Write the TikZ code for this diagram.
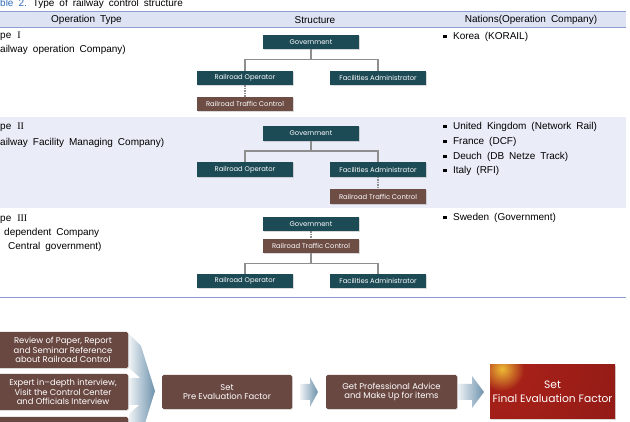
\documentclass[tikz,border=0pt]{standalone}
\usepackage{fontspec}
\setmainfont{Liberation Sans}[WordSpace=1.8]
\newfontfamily\boxfont{Poppins}
\newfontfamily\numfont{Liberation Serif}
\usepackage{tikz}
\usetikzlibrary{calc, shadows, fadings}
\usetikzlibrary{arrows.meta}
\tikzset{>={Latex[width=1.5mm,length=1.5mm]}}

\definecolor{orgteal}{HTML}{1C4A55}
\definecolor{ctrlbrown}{HTML}{6E4D45}
\definecolor{flowbrown}{HTML}{6A4842}
\definecolor{linkgray}{HTML}{8E8E8E}
\definecolor{headfill}{HTML}{DEE3F4}
\definecolor{rowfill}{HTML}{EAEDF8}
\definecolor{ruleblue}{HTML}{8C9DD2}
\definecolor{titleblue}{HTML}{2F6DB5}
\definecolor{arrowlight}{HTML}{EEF2F5}
\definecolor{arrowdark}{HTML}{6D92AC}
\definecolor{glowyellow}{HTML}{EDBA35}
\definecolor{finalred}{HTML}{AA2219}
\definecolor{finaldark}{HTML}{7A1313}

\tikzfading[name=glowfade, inner color=transparent!0, outer color=transparent!100]

\tikzset{
  boxshadow/.style={drop shadow={shadow xshift=0.8pt, shadow yshift=-0.8pt, opacity=0.3}},
  orgbox/.style={fill=orgteal, text=white, font=\boxfont\fontsize{6.8}{8}\selectfont,
    minimum width=96pt, minimum height=14.5pt, inner sep=0pt, boxshadow},
  ctrlbox/.style={orgbox, fill=ctrlbrown},
  flowbox/.style={fill=flowbrown, text=white, font=\boxfont\fontsize{8.4}{9.2}\selectfont,
    align=center, inner sep=0pt, rounded corners=1.5pt, minimum width=130pt, boxshadow},
  finalbox/.style={text=white, font=\boxfont\fontsize{10.7}{14}\selectfont, align=center,
    inner sep=0pt, minimum width=125pt, minimum height=54pt, boxshadow,
    path picture={
      \shade[inner color=finalred, outer color=finaldark]
        ($(path picture bounding box.north west)+(12pt,-3pt)$) circle (260pt);
      \fill[glowyellow, path fading=glowfade]
        ($(path picture bounding box.north west)+(12pt,-4pt)$) circle (22pt);
    }},
  link/.style={draw=linkgray, line width=1.2pt},
  ctrllink/.style={link, dash pattern=on 1.5pt off 1pt},
  headtext/.style={font=\fontsize{10}{12}\selectfont, inner sep=0pt},
  celltext/.style={anchor=west, font=\fontsize{10}{12}\selectfont, inner sep=0pt},
  bullet/.style={celltext},
}
\newcommand{\sqbullet}{\rule[1.2pt]{3.4pt}{3.4pt}\hspace{6.5pt}}

\begin{document}
\begin{tikzpicture}[x=1pt, y=-1pt]
  \useasboundingbox (0,0) rectangle (630,422);
  \clip (0,0) rectangle (630,422);

  \fill[headfill] (0,12) rectangle (626,27);
  \fill[rowfill] (0,117) rectangle (626,208);
  \draw[ruleblue, line width=1pt] (0,12) -- (626,12);
  \draw[ruleblue, line width=0.6pt] (0,27) -- (626,27);
  \draw[ruleblue, line width=0.8pt] (0,297) -- (626,297);

  \node[anchor=base west, inner sep=0pt, font=\fontsize{10}{11}\selectfont] (TITLE) at (0,7)
    {\textcolor{titleblue}{ble 2.} Type of railway control structure};
  \node[headtext] (HTYPE) at (86.5,20) {Operation Type};
  \node[headtext] (HSTRUCT) at (315,20) {Structure};
  \node[headtext] (HNATION) at (531,20) {Nations(Operation Company)};

  % type I
  \node[celltext] (TYPEA) at (0,36) {pe\hspace{6pt}{\numfont I}};
  \node[celltext] (DESCA) at (0,50) {ailway operation Company)};
  \node[orgbox] (GOVA) at (311,42) {Government};
  \node[orgbox] (ROA) at (245,78) {Railroad Operator};
  \node[orgbox] (FAA) at (378,78) {Facilities Administrator};
  \node[ctrlbox] (RTCA) at (245,104) {Railroad Traffic Control};
  \draw[link] (GOVA.south) -- ++(0,10) -| (ROA.north);
  \draw[link] (GOVA.south) -- ++(0,10) -| (FAA.north);
  \draw[ctrllink] (ROA.south) -- (RTCA.north);
  \node[bullet] (NATA) at (443,37) {\sqbullet Korea (KORAIL)};

  % type II
  \node[celltext] (TYPEB) at (0,127) {pe\hspace{6pt}{\numfont II}};
  \node[celltext] (DESCB) at (0,143) {ailway Facility Managing Company)};
  \node[orgbox] (GOVB) at (311,133.5) {Government};
  \node[orgbox] (ROB) at (245,169.5) {Railroad Operator};
  \node[orgbox] (FAB) at (378,169.5) {Facilities Administrator};
  \node[ctrlbox] (RTCB) at (378,196.5) {Railroad Traffic Control};
  \draw[link] (GOVB.south) -- ++(0,10) -| (ROB.north);
  \draw[link] (GOVB.south) -- ++(0,10) -| (FAB.north);
  \draw[ctrllink] (FAB.south) -- (RTCB.north);
  \node[bullet] (NATB1) at (443,127) {\sqbullet United Kingdom (Network Rail)};
  \node[bullet] (NATB2) at (443,142) {\sqbullet France (DCF)};
  \node[bullet] (NATB3) at (443,157) {\sqbullet Deuch (DB Netze Track)};
  \node[bullet] (NATB4) at (443,171) {\sqbullet Italy (RFI)};

  % type III
  \node[celltext] (TYPEC) at (0,219) {pe\hspace{6pt}{\numfont III}};
  \node[celltext] (DESCC1) at (4,233) {dependent Company};
  \node[celltext] (DESCC2) at (8,247) {Central government)};
  \node[orgbox] (GOVC) at (311,224) {Government};
  \node[ctrlbox] (RTCC) at (311,246) {Railroad Traffic Control};
  \node[orgbox] (ROC) at (245,281) {Railroad Operator};
  \node[orgbox] (FAC) at (378,281) {Facilities Administrator};
  \draw[ctrllink] (GOVC.south) -- (RTCC.north);
  \draw[link] (RTCC.south) -- ++(0,10) -| (ROC.north);
  \draw[link] (RTCC.south) -- ++(0,10) -| (FAC.north);
  \node[bullet] (NATC) at (443,218) {\sqbullet Sweden (Government)};

  % evaluation flow
  \node[flowbox, minimum height=36pt] (REVIEW) at (63,350)
    {Review of Paper, Report\\and Seminar Reference\\about Railroad Control};
  \node[flowbox, minimum height=36pt] (EXPERT) at (63,392)
    {Expert in–depth interview,\\Visit the Control Center\\and Officials Interview};
  \node[flowbox, minimum height=36pt] (LOWER) at (63,435) {};
  \node[flowbox, minimum height=34pt] (PRE) at (227,392) {Set\\Pre Evaluation Factor};
  \node[flowbox, minimum height=34pt, minimum width=131pt] (ADVICE) at (391.5,392)
    {Get Professional Advice\\and Make Up for items};
  \node[finalbox] (FINAL) at (552.5,392) {Set\\Final Evaluation Factor};

  \shade[left color=arrowlight, right color=arrowdark]
    (129,334) -- (141,346) -- (155,391) -- (129,368) -- cycle;
  \shade[left color=arrowlight, right color=arrowdark]
    (129,378) -- (146,378) -- (155,391) -- (146,405) -- (129,405) -- cycle;
  \shade[left color=arrowlight, right color=arrowdark]
    (129,448) -- (141,436) -- (155,391) -- (129,414) -- cycle;
  \shade[left color=arrowlight, right color=arrowdark]
    (300,384) -- (310,384) -- (310,377) -- (318,392) -- (310,407) -- (310,400) -- (300,400) -- cycle;
  \shade[left color=arrowlight, right color=arrowdark]
    (458,384) -- (472,384) -- (472,376) -- (484,392) -- (472,408) -- (472,400) -- (458,400) -- cycle;
\end{tikzpicture}
\end{document}
